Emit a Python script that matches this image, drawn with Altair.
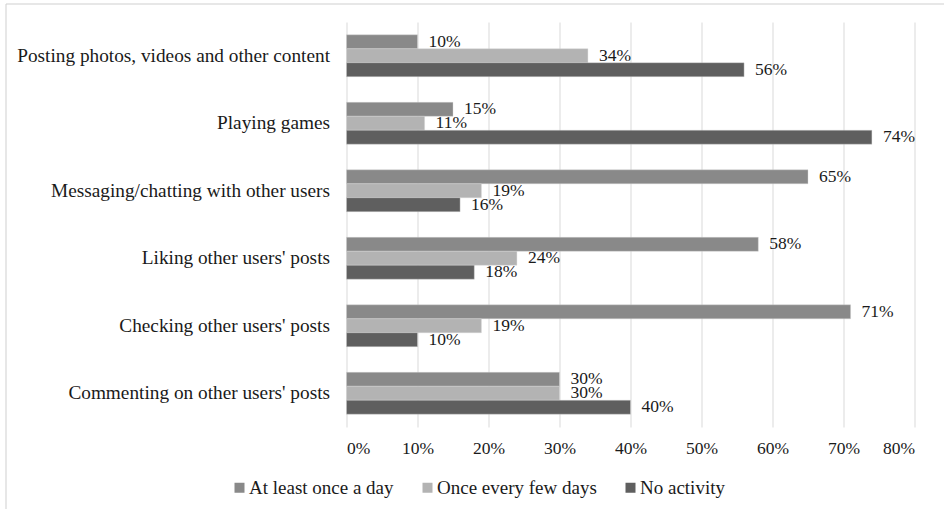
import altair as alt
import pandas as pd

# Share of users by activity and frequency
categories = [
    "Posting photos, videos and other content",
    "Playing games",
    "Messaging/chatting with other users",
    "Liking other users' posts",
    "Checking other users' posts\u00a0",
    "Commenting on other users' posts",
]
series = ["At least once a day", "Once every few days", "No activity"]
at_least_daily = [10, 15, 65, 58, 71, 30]
every_few_days = [34, 11, 19, 24, 19, 30]
no_activity = [56, 74, 16, 18, 10, 40]
tick_values = [0, 10, 20, 30, 40, 50, 60, 70, 80]
colors = ["#898989", "#b3b3b3", "#5f5f5f"]

rows = []
for name, vals in zip(series, [at_least_daily, every_few_days, no_activity]):
    for cat, v in zip(categories, vals):
        rows.append({"activity": cat, "frequency": name, "share": v / 100})
df = pd.DataFrame(rows)

FONT = "Liberation Serif"
TEXT = "#1a1a1a"
W, H = 568, 405
PAD = {"left": 346.5, "top": 22, "right": 29.5, "bottom": 82}

y_enc = alt.Y(
    "activity:N",
    sort=categories,
    scale=alt.Scale(paddingInner=0.38, paddingOuter=0.19),
    axis=alt.Axis(
        title=None, ticks=False, domain=False, labelPadding=17,
        labelFont=FONT, labelFontSize=19.3, labelColor=TEXT, labelLimit=400,
    ),
)
x_enc = alt.X(
    "share:Q",
    scale=alt.Scale(domain=[0, 0.8], nice=False),
    axis=alt.Axis(
        title=None, values=[v / 100 for v in tick_values], format=".0%",
        ticks=False, domain=False, grid=True, gridColor="#d9d9d9",
        labelPadding=12, labelFont=FONT, labelFontSize=17.5, labelColor=TEXT,
    ),
)
y_off = alt.YOffset("frequency:N", sort=series, scale=alt.Scale(paddingInner=0, paddingOuter=0))

bars = alt.Chart(df).mark_bar(stroke="#d4d4d4", strokeWidth=0.4).encode(
    y=y_enc,
    x=x_enc,
    yOffset=y_off,
    color=alt.Color(
        "frequency:N",
        sort=series,
        scale=alt.Scale(domain=series, range=colors),
        legend=alt.Legend(
            title=None, orient="none", legendX=-116.5, legendY=456,
            direction="horizontal", symbolType="square", symbolSize=100,
            symbolStrokeWidth=0, labelFont=FONT, labelFontSize=19,
            labelColor=TEXT, labelOffset=0, columnPadding=24,
        ),
    ),
)

labels = alt.Chart(df).mark_text(
    align="left", baseline="middle", dx=11, font=FONT, fontSize=17.5, color=TEXT
).encode(
    y=alt.Y("activity:N", sort=categories),
    x=alt.X("share:Q"),
    yOffset=alt.YOffset("frequency:N", sort=series),
    text=alt.Text("share:Q", format=".0%"),
)

# outer frame of the chart (left and top edges)
frame_data = alt.Data(values=[{"k": 0}])
frame_left = alt.Chart(frame_data).mark_rule(color="#cfcfcf", strokeWidth=1).encode(
    x=alt.value(-340.5), y=alt.value(-18), y2=alt.value(H + 90)
)
frame_top = alt.Chart(frame_data).mark_rule(color="#cfcfcf", strokeWidth=1).encode(
    x=alt.value(-340.5), x2=alt.value(W + 40), y=alt.value(-18)
)

chart = (
    alt.layer(bars, labels, frame_left, frame_top)
    .properties(
        width=W, height=H,
        autosize=alt.AutoSizeParams(type="none"),
        padding=PAD,
        background="white",
    )
    .configure_view(stroke=None)
)

chart.save("out.html", embed_options={"renderer": "svg", "actions": False})
